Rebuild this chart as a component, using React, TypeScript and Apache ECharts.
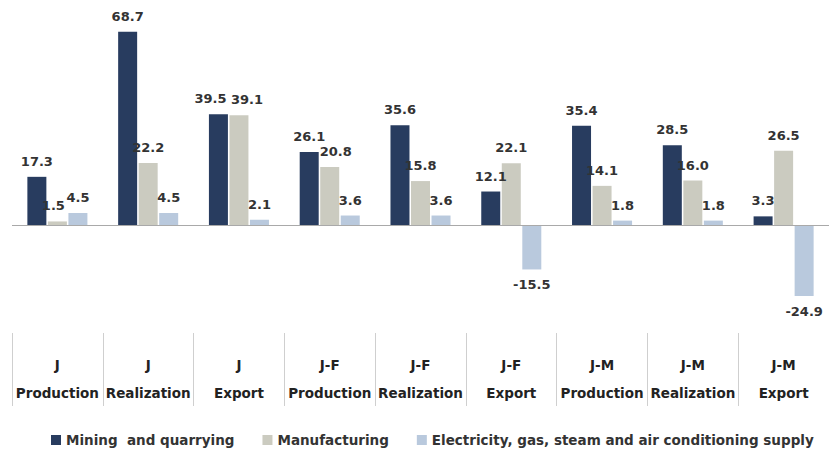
import React, { useEffect, useRef } from "react";
import * as echarts from "echarts";

const periods = ["J", "J", "J", "J-F", "J-F", "J-F", "J-M", "J-M", "J-M"];
const types = ["Production", "Realization", "Export", "Production", "Realization", "Export", "Production", "Realization", "Export"];
const seriesNames = ["Mining  and quarrying", "Manufacturing", "Electricity, gas, steam and air conditioning supply"];
const mining = [17.3, 68.7, 39.5, 26.1, 35.6, 12.1, 35.4, 28.5, 3.3];
const manufacturing = [1.5, 22.2, 39.1, 20.8, 15.8, 22.1, 14.1, 16.0, 26.5];
const electricity = [4.5, 4.5, 2.1, 3.6, 3.6, -15.5, 1.8, 1.8, -24.9];
const colors = ["#283c5f", "#cbcbc0", "#b9c9dd"];

const FONT = "DejaVu Sans";

export default function App() {
  const ref = useRef<HTMLDivElement>(null);
  useEffect(() => {
    if (!ref.current) return;
    const chart = echarts.init(ref.current, undefined, { renderer: "svg" });
    const cats = periods.map((p, i) => p + "\n" + types[i]);
    const mk = (name: string, vals: number[], color: string, idx: number) => ({
      name,
      type: "bar",
      barWidth: 19,
      barGap: "8%",
      itemStyle: { color },
      data: vals.map((v, i) => {
        const item: any = { value: v, label: { position: v < 0 ? "bottom" : "top" } };
        // nudge labels that would collide
        if (idx === 0 && i === 2) item.label.offset = [-8, 0];
        if (idx === 1 && i === 2) item.label.offset = [8, 0];
        if (idx === 1 && i === 0) item.label.offset = [-4, 0];
        if (idx === 1 && i === 3) item.label.offset = [6, 0];
        return item;
      }),
      label: {
        show: true,
        distance: 9,
        color: "#333",
        fontFamily: FONT,
        fontWeight: "bold",
        fontSize: 13,
        formatter: (p: any) => Number(p.value).toFixed(1),
      },
      markLine:
        idx === 0
          ? {
              silent: true,
              symbol: "none",
              label: { show: false },
              lineStyle: { color: "#a9a9a9", type: "solid", width: 1.2 },
              data: [{ yAxis: 0 }],
            }
          : undefined,
    });
    chart.setOption({
      animation: false,
      grid: { left: 12, top: 28, width: 826, height: 305 },
      legend: {
        top: 428,
        left: 46,
        itemWidth: 10,
        itemHeight: 10,
        itemGap: 28,
        icon: "rect",
        textStyle: { color: "#333", fontFamily: FONT, fontWeight: "bold", fontSize: 13.5 },
        data: seriesNames,
      },
      xAxis: {
        type: "category",
        data: cats,
        axisLine: { show: false, onZero: false },
        axisTick: { show: true, length: 73, lineStyle: { color: "#cfcfcf" } },
        axisLabel: {
          margin: 18,
          color: "#222",
          fontFamily: FONT,
          fontWeight: "bold",
          fontSize: 13.5,
          lineHeight: 28,
          interval: 0,
        },
      },
      yAxis: {
        type: "value",
        min: -38,
        max: 70,
        show: false,
        splitLine: { show: false },
      },
      series: [
        mk(seriesNames[0], mining, colors[0], 0),
        mk(seriesNames[1], manufacturing, colors[1], 1),
        mk(seriesNames[2], electricity, colors[2], 2),
      ],
    });
    return () => chart.dispose();
  }, []);
  return (
    <div
      ref={ref}
      style={{ position: "absolute", left: 0, top: 0, width: 829, height: 452, background: "#fff" }}
    />
  );
}
